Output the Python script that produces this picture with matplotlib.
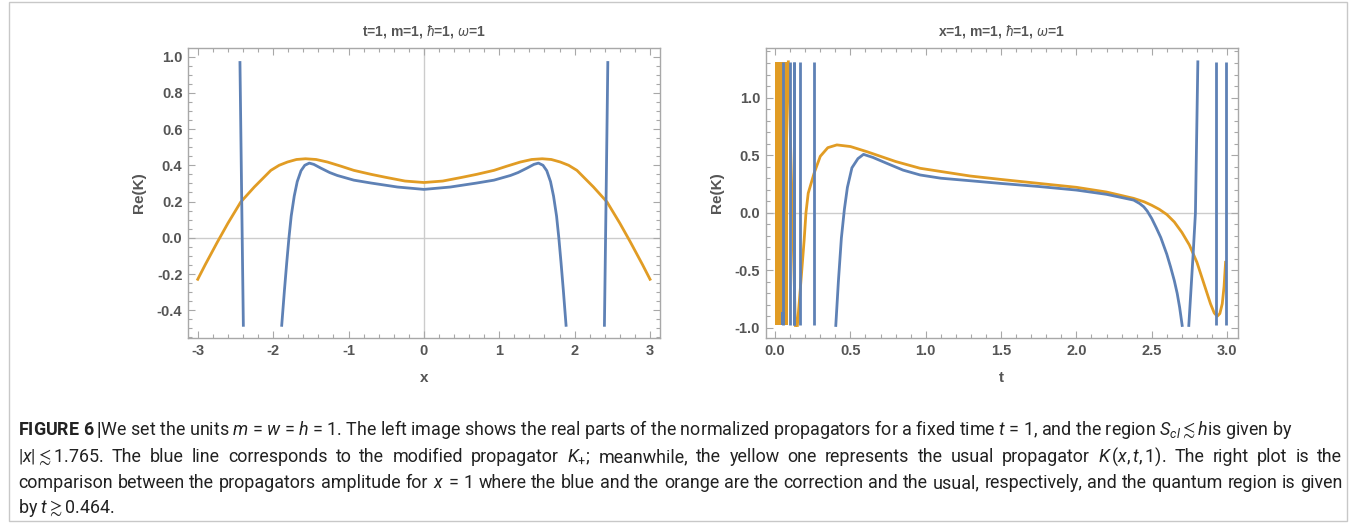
import numpy as np
import matplotlib.pyplot as plt
from matplotlib.patches import Rectangle
from matplotlib.ticker import MultipleLocator, FormatStrFormatter

plt.rcParams['font.family'] = ['Liberation Sans', 'DejaVu Sans']
plt.rcParams['mathtext.fontset'] = 'custom'
plt.rcParams['mathtext.rm'] = 'Roboto'
plt.rcParams['mathtext.it'] = 'Roboto:italic'
plt.rcParams['mathtext.bf'] = 'Roboto:bold'
plt.rcParams['mathtext.fallback'] = 'stixsans'

BLUE = '#5E81B5'
ORANGE = '#E19C24'
FRAME = '#a8a8a8'
ZERO = '#cccccc'
TXT = '#555555'

# ---- left panel: Re(K) against x, t=1 ----
x_usual = [-3.0, -2.9, -2.74, -2.6, -2.43, -2.25, -2.03, -1.92, -1.81, -1.69,
           -1.57, -1.43, -1.28, -1.10, -0.93, -0.70, -0.50, -0.25, 0.0,
           0.25, 0.50, 0.70, 0.93, 1.10, 1.28, 1.43, 1.57, 1.69, 1.81, 1.92,
           2.03, 2.25, 2.43, 2.6, 2.74, 2.9, 3.0]
k_usual = [-0.229, -0.148, -0.024, 0.08, 0.197, 0.28, 0.372, 0.40, 0.418, 0.432,
           0.436, 0.432, 0.418, 0.395, 0.372, 0.35, 0.333, 0.313, 0.305,
           0.313, 0.333, 0.35, 0.372, 0.395, 0.418, 0.432, 0.436, 0.432, 0.418, 0.40,
           0.372, 0.28, 0.197, 0.08, -0.024, -0.148, -0.229]

x_mod = [-2.44, -2.418, -2.395, np.nan,
         -1.886, -1.85, -1.82, -1.79, -1.76, -1.72, -1.68, -1.63, -1.58, -1.52,
         -1.46, -1.37, -1.25, -1.15, -0.93, -0.70, -0.35, 0.0,
         0.35, 0.70, 0.93, 1.15, 1.25, 1.37, 1.46, 1.52, 1.58, 1.63, 1.68,
         1.72, 1.76, 1.79, 1.82, 1.85, 1.886, np.nan,
         2.395, 2.418, 2.44]
k_mod = [0.967, 0.25, -0.483, np.nan,
         -0.483, -0.29, -0.14, 0.0, 0.12, 0.23, 0.31, 0.37, 0.40, 0.412,
         0.405, 0.385, 0.36, 0.344, 0.318, 0.302, 0.28, 0.267,
         0.28, 0.302, 0.318, 0.344, 0.36, 0.385, 0.405, 0.412, 0.40, 0.37, 0.31,
         0.23, 0.12, 0.0, -0.14, -0.29, -0.483, np.nan,
         -0.483, 0.25, 0.967]

# ---- right panel: Re(K) against t, x=1 ----
plot_range_right = [-0.978, 1.31]
usual_band_t = [0.0, 0.085]          # densely oscillating region (solid)
t_usual = [0.088, 0.135, np.nan,
           0.148, 0.17, 0.193, 0.205, 0.22, 0.259, 0.30, 0.35, 0.41, 0.50,
           0.61, 0.80, 0.963, 1.295, 1.495, 2.0, 2.2, 2.38, 2.45, 2.50,
           2.55, 2.60, 2.65, 2.70, 2.75, 2.80, 2.846, 2.89, 2.915, 2.935,
           2.952, 2.968, 2.98, 2.99]
r_usual = [1.31, -0.978, np.nan,
           -0.978, -0.62, -0.237, 0.0, 0.17, 0.343, 0.49, 0.565, 0.589, 0.575,
           0.53, 0.445, 0.386, 0.319, 0.29, 0.221, 0.18, 0.125, 0.095, 0.065,
           0.03, -0.015, -0.08, -0.17, -0.28, -0.43, -0.614, -0.79, -0.87, -0.898,
           -0.875, -0.79, -0.64, -0.43]

t_mod = [0.403, 0.42, 0.44, 0.46, 0.48, 0.51, 0.55, 0.587, 0.65, 0.74,
         0.85, 0.963, 1.1, 1.295, 1.495, 1.75, 2.0, 2.2, 2.38, 2.42,
         2.447, 2.47, 2.50, 2.53, 2.56, 2.60, 2.625, 2.65, 2.669, 2.685,
         2.702, np.nan,
         2.746, 2.775, 2.79, 2.806]
r_mod = [-0.978, -0.6, -0.22, 0.03, 0.22, 0.39, 0.47, 0.507, 0.48, 0.43,
         0.37, 0.328, 0.30, 0.278, 0.255, 0.228, 0.197, 0.16, 0.11, 0.08,
         0.052, 0.015, -0.05, -0.13, -0.215, -0.36, -0.47, -0.59, -0.70, -0.82,
         -0.978, np.nan,
         -0.978, -0.353, 0.0, 1.31]
mod_spikes_t = [0.055, 0.100, 0.124, 0.128, 0.168, 0.259, 2.925, 2.99]
mod_block_t = [0.042, 0.068]
mod_block_r = -0.86

caption = [
    r'$\mathbf{FIGURE\ 6\,|}$We set the units $m$ = $w$ = $h$ = 1. The left image shows the real parts of the normalized propagators for a fixed time $t$ = 1, and the region $S_{cl}\lesssim h$is given by',
    r'$|x|\lesssim$1.765. The blue line corresponds to the modified propagator $K_{+}$; meanwhile, the yellow one represents the usual propagator $K\,(x,t,1)$. The right plot is the',
    r'comparison between the propagators amplitude for $x$ = 1 where the blue and the orange are the correction and the usual, respectively, and the quantum region is given',
    r'by $t\gtrsim$0.464.',
]
cap_base = [435, 462, 488, 513]       # baselines, pixels from the top
cap_right = [1290, 1342, 1343, None]  # justified line ends, in pixels

fig = plt.figure(figsize=(13.56, 5.23), dpi=100)
ax1 = fig.add_axes([0.1386, 0.3537, 0.348, 0.5545])
ax2 = fig.add_axes([0.5647, 0.3537, 0.348, 0.5545])


def style(ax, xmaj, xmin, ymaj, ymin, xfmt, yfmt):
    for s in ax.spines.values():
        s.set_color(FRAME)
        s.set_linewidth(1.0)
    ax.xaxis.set_major_locator(MultipleLocator(xmaj))
    ax.xaxis.set_minor_locator(MultipleLocator(xmin))
    ax.yaxis.set_major_locator(MultipleLocator(ymaj))
    ax.yaxis.set_minor_locator(MultipleLocator(ymin))
    ax.xaxis.set_major_formatter(FormatStrFormatter(xfmt))
    ax.yaxis.set_major_formatter(FormatStrFormatter(yfmt))
    ax.tick_params(which='both', direction='in', top=True, right=True,
                   color=FRAME, labelcolor=TXT, labelsize=10.5, width=0.8)
    ax.tick_params(which='major', length=5, pad=4)
    ax.tick_params(which='minor', length=2.8)
    for lab in ax.get_xticklabels() + ax.get_yticklabels():
        lab.set_fontweight('bold')


# left
ax1.axhline(0, color=ZERO, lw=1.0, zorder=1)
ax1.axvline(0, color=ZERO, lw=1.0, zorder=1)
ax1.plot(x_usual, k_usual, color=ORANGE, lw=2.0, zorder=2)
ax1.plot(x_mod, k_mod, color=BLUE, lw=2.0, zorder=3)
ax1.set_xlim(-3.13, 3.13)
ax1.set_ylim(-0.553, 1.047)
style(ax1, 1, 0.2, 0.2, 0.05, '%d', '%.1f')
ax1.set_title(r't=1, m=1, $\hbar$=1, $\omega$=1', color=TXT, fontsize=10,
              fontweight='bold', pad=9)
ax1.set_xlabel('x', color=TXT, fontsize=11, fontweight='bold', labelpad=10)
ax1.set_ylabel('Re(K)', color=TXT, fontsize=11, fontweight='bold', labelpad=8)

# right
lo, hi = plot_range_right
ax2.axhline(0, color=ZERO, lw=1.0, zorder=1)
ax2.fill_betweenx([lo, hi], usual_band_t[0], usual_band_t[1], color=ORANGE,
                  lw=0, zorder=2)
ax2.plot(t_usual, r_usual, color=ORANGE, lw=2.0, zorder=2)
ax2.plot(t_mod, r_mod, color=BLUE, lw=2.0, zorder=3)
ax2.vlines(mod_spikes_t, lo, hi, color=BLUE, lw=2.0, zorder=3)
ax2.fill_between(mod_block_t, lo, mod_block_r, color=BLUE, lw=0, zorder=3)
ax2.set_xlim(-0.062, 3.07)
ax2.set_ylim(-1.087, 1.43)
style(ax2, 0.5, 0.1, 0.5, 0.1, '%.1f', '%.1f')
ax2.set_title(r'x=1, m=1, $\hbar$=1, $\omega$=1', color=TXT, fontsize=10,
              fontweight='bold', pad=9)
ax2.set_xlabel('t', color=TXT, fontsize=11, fontweight='bold', labelpad=10)
ax2.set_ylabel('Re(K)', color=TXT, fontsize=11, fontweight='bold', labelpad=8)

# caption: font size taken from the first line, then lines 2-3 justified
W, H = 1356, 523
x0 = 18
cap_kw = dict(va='baseline', ha='left', color='#222222',
              family=['Roboto', 'DejaVu Sans'])
renderer = fig.canvas.get_renderer()
probe = fig.text(x0 / W, 1 - cap_base[0] / H, caption[0], fontsize=12, **cap_kw)
size = 12 * (cap_right[0] - x0) / probe.get_window_extent(renderer).width
probe.set_fontsize(size)

for line, y, right in zip(caption[1:], cap_base[1:], cap_right[1:]):
    if right is None:
        fig.text(x0 / W, 1 - y / H, line, fontsize=size, **cap_kw)
        continue
    words = [fig.text(0, 1 - y / H, w, fontsize=size, **cap_kw)
             for w in line.split(' ')]
    widths = [w.get_window_extent(renderer).width for w in words]
    gap = (right - x0 - sum(widths)) / (len(words) - 1)
    pos = x0
    for w, wd in zip(words, widths):
        w.set_x(pos / W)
        pos += wd + gap

fig.patches.append(Rectangle((9 / W, 2 / H), 1338 / W, 519 / H,
                             transform=fig.transFigure, fill=False,
                             edgecolor='#c8c8c8', lw=1.0))

fig.savefig('out.png', dpi=100)
